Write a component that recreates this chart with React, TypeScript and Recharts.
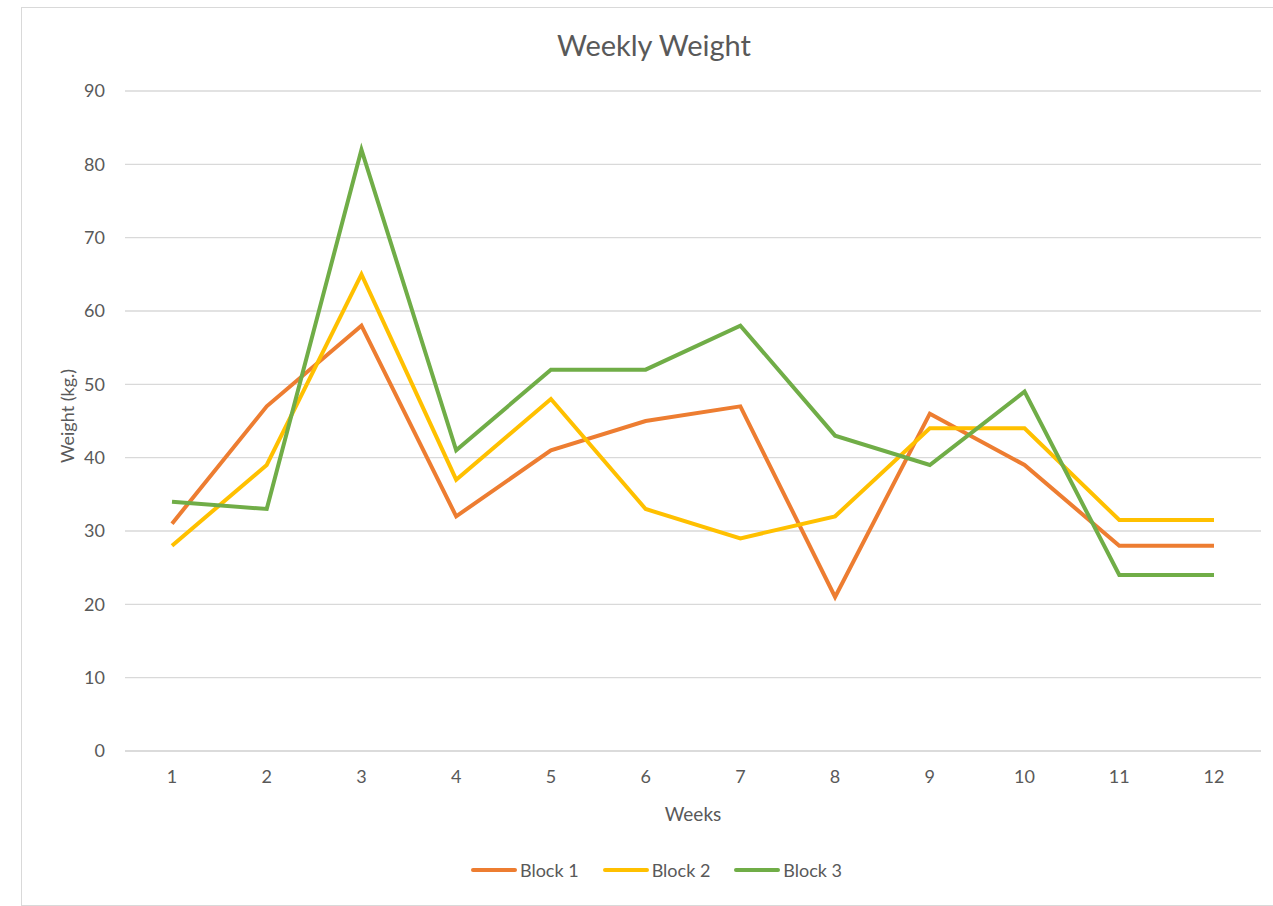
import React from 'react';
import { LineChart, Line, XAxis, YAxis, CartesianGrid, Legend } from 'recharts';

const weeks = ['1', '2', '3', '4', '5', '6', '7', '8', '9', '10', '11', '12'];
const block1 = [31, 47, 58, 32, 41, 45, 47, 21, 46, 39, 28, 28];
const block2 = [28, 39, 65, 37, 48, 33, 29, 32, 44, 44, 31.5, 31.5];
const block3 = [34, 33, 82, 41, 52, 52, 58, 43, 39, 49, 24, 24];
const yTicks = [0, 10, 20, 30, 40, 50, 60, 70, 80, 90];
const seriesNames = ['Block 1', 'Block 2', 'Block 3'];
const seriesColors = ['#ED7D31', '#FFC000', '#70AD47'];

const data = weeks.map((w, i) => ({
  week: w,
  b1: block1[i],
  b2: block2[i],
  b3: block3[i],
}));

const FONT = 'Lato, "Open Sans", sans-serif';
const TEXT = '#595959';

const LegendContent = (props: any) => {
  const payload = props.payload || [];
  return (
    <div style={{ display: 'flex', justifyContent: 'center', gap: 24, fontFamily: FONT, fontSize: 18, color: TEXT }}>
      {payload.map((p: any) => (
        <div key={p.value} style={{ display: 'flex', alignItems: 'center' }}>
          <div style={{ width: 46, height: 4, borderRadius: 2, background: p.color, marginRight: 3 }} />
          <span>{p.value}</span>
        </div>
      ))}
    </div>
  );
};

export default function App() {
  return (
    <div style={{ position: 'absolute', left: 0, top: 0, width: 1273, height: 906, overflow: 'hidden', background: '#fff' }}>
      <div style={{ position: 'absolute', left: 21, top: 7, width: 1300, height: 897, border: '1px solid #d9d9d9' }} />
      <div
        style={{
          position: 'absolute',
          left: 0,
          top: 25,
          width: 1308,
          textAlign: 'center',
          fontFamily: FONT,
          fontSize: 29,
          color: TEXT,
          lineHeight: '40px',
        }}
      >
        Weekly Weight
      </div>
      <div style={{ position: 'absolute', left: 0, top: 0 }}>
        <LineChart width={1273} height={906} data={data} margin={{ top: 91, right: 12, bottom: 85, left: 0 }}>
          <CartesianGrid vertical={false} stroke="#d9d9d9" strokeWidth={1.3} />
          <XAxis
            dataKey="week"
            height={70}
            padding={{ left: 47, right: 47 }}
            tickLine={false}
            axisLine={{ stroke: '#d9d9d9', strokeWidth: 1.3 }}
            tickSize={0}
            tickMargin={19}
            tick={{ fill: TEXT, fontSize: 18, fontFamily: FONT }}
            label={(p: any) => {
              const vb = p.viewBox;
              return (
                <text
                  x={vb.x + vb.width / 2}
                  y={vb.y + 62}
                  textAnchor="middle"
                  dominantBaseline="central"
                  fill={TEXT}
                  fontSize={19}
                  fontFamily={FONT}
                >
                  Weeks
                </text>
              );
            }}
          />
          <YAxis
            width={125}
            domain={[0, 90]}
            ticks={yTicks}
            tickLine={false}
            axisLine={false}
            tickSize={0}
            tickMargin={20}
            tick={{ fill: TEXT, fontSize: 18, fontFamily: FONT }}
            label={(p: any) => {
              const vb = p.viewBox;
              const cx = vb.x + 67;
              const cy = vb.y + vb.height / 2 - 5;
              return (
                <text
                  x={cx}
                  y={cy}
                  transform={`rotate(-90, ${cx}, ${cy})`}
                  textAnchor="middle"
                  dominantBaseline="central"
                  fill={TEXT}
                  fontSize={18}
                  fontFamily={FONT}
                >
                  Weight (kg.)
                </text>
              );
            }}
          />
          <Legend
            layout="horizontal"
            verticalAlign="middle"
            align="center"
            content={<LegendContent />}
            wrapperStyle={{ top: 859, left: 0, width: 1313 }}
          />
          <Line type="linear" dataKey="b1" name={seriesNames[0]} stroke={seriesColors[0]} strokeWidth={4} dot={false} isAnimationActive={false} />
          <Line type="linear" dataKey="b2" name={seriesNames[1]} stroke={seriesColors[1]} strokeWidth={4} dot={false} isAnimationActive={false} />
          <Line type="linear" dataKey="b3" name={seriesNames[2]} stroke={seriesColors[2]} strokeWidth={4} dot={false} isAnimationActive={false} />
        </LineChart>
      </div>
    </div>
  );
}
